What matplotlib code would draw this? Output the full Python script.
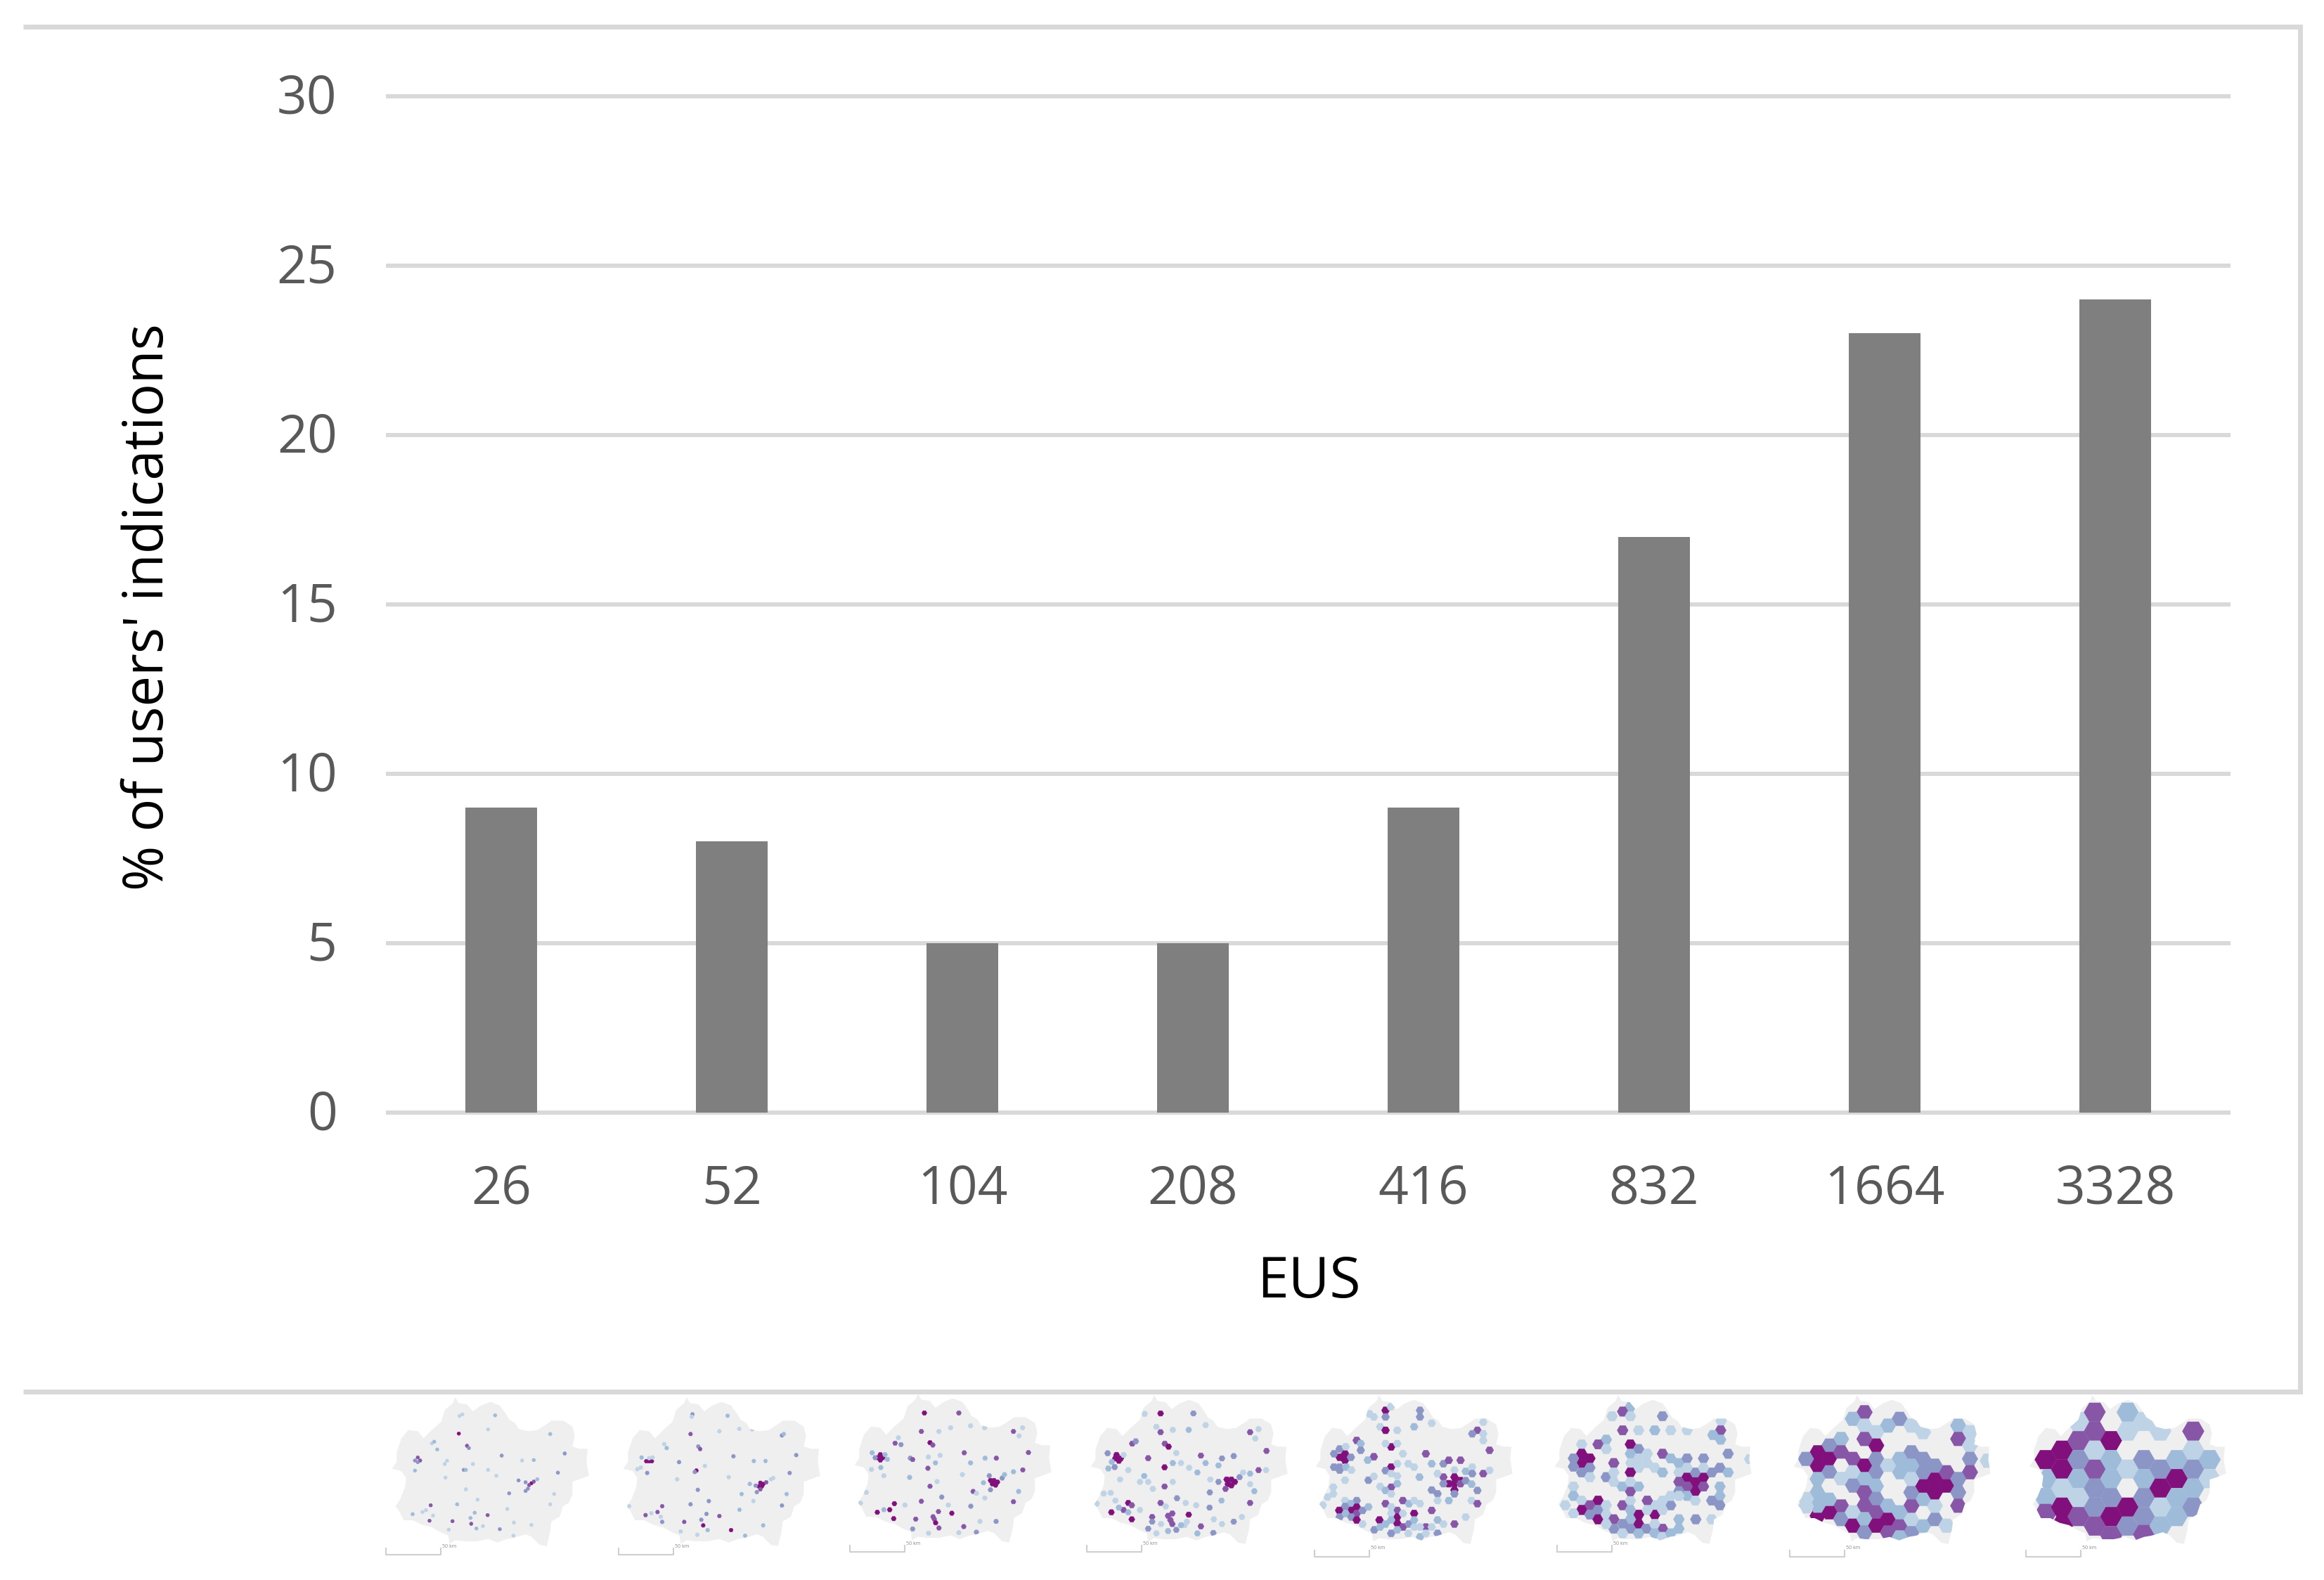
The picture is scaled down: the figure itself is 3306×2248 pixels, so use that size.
import matplotlib
matplotlib.use('Agg')
import matplotlib.pyplot as plt
from matplotlib.patches import Polygon
from matplotlib.transforms import ScaledTranslation

W, H = 3306, 2248

categories = ['26', '52', '104', '208', '416', '832', '1664', '3328']
values = [9, 8, 5, 5, 9, 17, 23, 24]
y_ticks = [0, 5, 10, 15, 20, 25, 30]

# BuPu classes, 0 is an empty cell inside the region
class_colors = ['#efefef', '#bfd3e6', '#9ebcda', '#8c96c6', '#8856a7', '#810f7c']

region = [(290, 15), (305, 40), (340, 45), (365, 75), (400, 50), (440, 35), (480, 50), (505, 85),
          (520, 110), (545, 125), (560, 150), (600, 160), (640, 155), (680, 130), (700, 115), (750, 115),
          (790, 140), (800, 180), (790, 225), (820, 235), (855, 235), (850, 290), (860, 350), (820, 365),
          (790, 375), (790, 430), (775, 465), (750, 480), (735, 525), (700, 545), (695, 590), (680, 650),
          (650, 645), (615, 610), (590, 600), (540, 615), (510, 620), (470, 635), (430, 620), (380, 630),
          (330, 630), (290, 625), (265, 640), (260, 605), (225, 590), (190, 570), (150, 560), (110, 540),
          (70, 540), (50, 500), (35, 480), (55, 450), (75, 400), (80, 360), (60, 330), (20, 320),
          (40, 290), (40, 250), (60, 190), (90, 155), (130, 160), (155, 190), (190, 155), (230, 120),
          (245, 70), (280, 40)]

cells_26 = [(320, 88, 1), (308, 95, 1), (460, 92, 2), (305, 170, 5), (430, 152, 1), (695, 172, 2), (190, 212, 1),
            (200, 205, 2), (213, 238, 2), (340, 222, 4), (348, 232, 3), (488, 264, 3), (757, 255, 3), (255, 286, 1),
            (118, 285, 3), (130, 272, 4), (140, 285, 4), (130, 292, 3), (118, 328, 2), (326, 325, 3), (335, 325, 2),
            (575, 285, 1), (625, 283, 2), (728, 337, 3), (615, 382, 5), (605, 390, 4), (590, 378, 3), (560, 370, 3),
            (600, 405, 3), (590, 415, 3), (625, 375, 4), (640, 365, 2), (520, 425, 3), (335, 408, 1), (248, 358, 1),
            (385, 452, 1), (298, 472, 2), (185, 476, 4), (165, 497, 1), (108, 514, 2), (180, 542, 4), (278, 544, 4),
            (355, 530, 2), (373, 508, 2), (358, 555, 4), (428, 518, 4), (380, 575, 2), (480, 578, 3), (512, 492, 1),
            (695, 472, 1), (615, 560, 1), (712, 428, 1), (540, 550, 1), (538, 606, 1), (262, 580, 1), (408, 565, 1),
            (150, 505, 1), (195, 520, 1), (365, 300, 1), (465, 350, 1), (430, 325, 1), (245, 300, 1)]

cells_52 = [(315, 88, 3), (312, 98, 1), (465, 94, 2), (307, 172, 4), (430, 160, 1), (697, 178, 3), (705, 172, 2),
            (205, 232, 2), (195, 215, 1), (340, 225, 3), (348, 236, 4), (490, 267, 3), (758, 262, 3), (258, 292, 3),
            (118, 288, 5), (130, 288, 5), (142, 288, 5), (130, 275, 1), (145, 272, 1), (98, 272, 2), (122, 338, 3),
            (80, 322, 1), (95, 315, 1), (332, 328, 5), (325, 334, 3), (577, 287, 2), (627, 287, 2), (730, 338, 3),
            (605, 380, 5), (618, 385, 5), (630, 378, 4), (598, 395, 5), (612, 395, 5), (605, 408, 4), (590, 420, 3),
            (560, 385, 2), (585, 392, 3), (650, 365, 1), (660, 360, 1), (338, 410, 3), (525, 428, 2), (575, 458, 1),
            (385, 458, 3), (307, 472, 3), (186, 480, 4), (166, 505, 4), (115, 518, 4), (186, 547, 3), (280, 547, 4),
            (353, 538, 3), (375, 513, 3), (361, 562, 5), (430, 522, 4), (480, 582, 5), (380, 582, 2), (516, 495, 2),
            (697, 477, 3), (617, 562, 2), (717, 428, 2), (540, 606, 2), (336, 602, 1), (265, 588, 1), (140, 510, 1),
            (180, 525, 1), (45, 480, 1), (470, 356, 1), (250, 365, 1), (368, 308, 1), (515, 150, 1), (570, 152, 1)]

cells_104 = [(318, 97, 5), (465, 97, 4), (305, 176, 4), (430, 160, 1), (380, 176, 1), (515, 152, 1), (575, 160, 1),
             (698, 176, 4), (737, 160, 1), (722, 195, 1), (193, 226, 4), (218, 232, 3), (207, 203, 1), (342, 224, 5),
             (354, 234, 4), (488, 267, 4), (762, 266, 4), (258, 290, 3), (268, 296, 4), (130, 275, 5), (120, 288, 5),
             (140, 288, 5), (130, 298, 5), (150, 275, 2), (95, 267, 2), (108, 288, 3), (160, 295, 2), (132, 330, 2),
             (92, 338, 1), (145, 365, 1), (333, 333, 4), (577, 290, 2), (625, 290, 4), (738, 340, 4), (698, 348, 2),
             (600, 385, 5), (615, 385, 5), (630, 392, 5), (608, 400, 5), (622, 405, 5), (595, 365, 3), (570, 395, 2),
             (650, 375, 3), (600, 425, 3), (660, 360, 2), (365, 310, 2), (515, 310, 2), (480, 360, 1), (255, 372, 2),
             (342, 410, 4), (372, 390, 1), (526, 432, 4), (540, 440, 1), (576, 460, 1), (392, 456, 3), (305, 474, 4),
             (190, 484, 5), (170, 510, 5), (117, 521, 5), (145, 510, 2), (187, 548, 5), (281, 550, 4), (360, 550, 4),
             (378, 518, 4), (355, 540, 4), (366, 566, 5), (435, 525, 5), (380, 588, 4), (486, 582, 4), (516, 495, 3),
             (698, 476, 4), (624, 560, 3), (720, 432, 2), (540, 606, 3), (268, 592, 3), (336, 610, 1), (465, 608, 1),
             (70, 436, 1), (45, 482, 1), (235, 490, 1), (420, 490, 1), (555, 560, 1), (335, 285, 1), (385, 278, 1)]

cells_208 = [(318, 93, 5), (250, 95, 1), (458, 93, 3), (300, 150, 1), (370, 163, 1), (438, 163, 2), (510, 143, 1),
             (318, 173, 4), (700, 173, 4), (736, 160, 1), (722, 200, 1), (197, 222, 4), (212, 212, 3), (336, 222, 4),
             (352, 235, 5), (385, 262, 1), (490, 273, 4), (770, 253, 4), (265, 284, 4), (130, 270, 5), (148, 285, 5),
             (125, 285, 5), (140, 295, 5), (92, 263, 3), (160, 270, 1), (110, 300, 2), (122, 322, 3), (95, 328, 2),
             (180, 335, 1), (145, 375, 1), (370, 305, 2), (405, 305, 1), (335, 323, 5), (440, 325, 1), (475, 345, 2),
             (510, 305, 2), (580, 285, 3), (630, 275, 3), (565, 315, 2), (736, 335, 4), (700, 350, 2), (768, 335, 1),
             (600, 375, 5), (620, 375, 5), (635, 385, 5), (605, 395, 5), (620, 400, 5), (595, 415, 4), (565, 385, 3),
             (655, 365, 3), (530, 375, 1), (670, 345, 1), (700, 395, 1), (718, 425, 2), (528, 430, 3), (578, 465, 2),
             (248, 360, 2), (230, 385, 1), (265, 385, 1), (285, 415, 1), (335, 405, 4), (370, 385, 1), (75, 435, 1),
             (105, 432, 1), (45, 478, 1), (125, 465, 1), (388, 455, 3), (318, 475, 4), (425, 475, 1), (180, 475, 5),
             (195, 485, 4), (160, 505, 4), (108, 515, 5), (140, 495, 2), (195, 545, 5), (180, 515, 2), (230, 505, 1),
             (282, 535, 4), (282, 555, 3), (350, 530, 4), (368, 520, 4), (360, 548, 4), (368, 565, 4), (385, 590, 3),
             (438, 525, 5), (490, 575, 4), (527, 495, 3), (700, 475, 4), (630, 555, 3), (580, 565, 1), (545, 545, 1),
             (665, 535, 1), (543, 603, 3), (265, 585, 3), (320, 565, 1), (350, 595, 2), (420, 570, 1), (475, 605, 2),
             (405, 570, 2), (430, 555, 1), (300, 605, 1), (470, 485, 1), (340, 490, 1)]

cells_416 = [(318, 80, 5), (318, 108, 3), (465, 80, 3), (465, 108, 3), (250, 95, 1), (268, 108, 1), (340, 65, 1),
             (295, 150, 1), (318, 165, 5), (368, 165, 1), (440, 150, 2), (515, 135, 1), (710, 165, 4), (688, 180, 3),
             (735, 130, 1), (735, 180, 1), (735, 208, 1), (195, 208, 4), (212, 222, 2), (212, 250, 3), (342, 236, 5),
             (318, 222, 1), (368, 222, 1), (392, 265, 1), (490, 265, 4), (762, 250, 4), (268, 278, 4), (242, 292, 2),
             (145, 265, 5), (122, 280, 5), (145, 293, 5), (170, 280, 3), (98, 265, 3), (122, 245, 3), (148, 235, 1),
             (98, 322, 3), (122, 322, 3), (122, 335, 3), (150, 322, 2), (172, 335, 1), (145, 378, 1), (342, 322, 5),
             (318, 337, 3), (342, 350, 1), (368, 308, 1), (415, 308, 1), (440, 322, 1), (515, 308, 2), (463, 365, 2),
             (565, 308, 3), (588, 293, 4), (638, 293, 4), (735, 350, 4), (762, 336, 1), (688, 322, 1), (612, 335, 1),
             (660, 340, 2), (688, 350, 3), (565, 365, 4), (612, 365, 5), (638, 380, 5), (588, 393, 5), (612, 393, 5),
             (612, 420, 5), (638, 393, 4), (565, 393, 3), (540, 350, 1), (660, 380, 3), (685, 395, 2), (710, 422, 3),
             (515, 420, 3), (540, 436, 3), (540, 465, 1), (588, 465, 2), (612, 436, 3), (685, 465, 1), (710, 478, 4),
             (245, 378, 3), (268, 362, 1), (295, 405, 1), (342, 408, 4), (368, 393, 2), (318, 422, 2), (342, 436, 1),
             (368, 360, 1), (95, 408, 1), (95, 436, 1), (70, 450, 1), (50, 485, 1), (145, 465, 1), (195, 465, 3),
             (170, 478, 2), (145, 490, 3), (120, 507, 5), (172, 507, 5), (195, 493, 5), (122, 535, 3), (148, 520, 2),
             (195, 520, 4), (172, 535, 3), (195, 548, 5), (220, 507, 3), (245, 492, 2), (220, 565, 1), (318, 478, 4),
             (392, 465, 4), (418, 478, 2), (440, 465, 1), (465, 478, 1), (515, 507, 4), (440, 520, 5), (368, 507, 4),
             (368, 535, 5), (368, 562, 5), (342, 492, 1), (342, 520, 1), (342, 548, 2), (392, 578, 4), (418, 565, 3),
             (292, 548, 5), (270, 590, 3), (295, 578, 2), (318, 565, 2), (342, 605, 3), (368, 590, 2), (415, 605, 1),
             (465, 620, 2), (490, 578, 4), (540, 605, 3), (540, 548, 2), (565, 565, 1), (612, 565, 4), (660, 535, 1),
             (440, 578, 1), (490, 605, 1), (465, 578, 1), (515, 578, 1), (392, 520, 1), (440, 548, 2)]

cells_832 = [(343, 65, 2), (310, 85, 4), (343, 105, 1), (265, 105, 1), (480, 105, 3), (730, 125, 1), (310, 165, 4),
             (378, 165, 1), (447, 165, 2), (515, 165, 1), (585, 165, 1), (728, 165, 4), (695, 185, 2), (728, 205, 2),
             (240, 205, 2), (205, 225, 4), (135, 225, 1), (240, 245, 1), (343, 225, 5), (378, 245, 3), (343, 265, 2),
             (415, 265, 1), (480, 265, 4), (378, 285, 1), (415, 305, 1), (345, 305, 1), (378, 325, 1), (447, 325, 1),
             (515, 285, 2), (550, 305, 2), (585, 285, 3), (655, 285, 3), (760, 265, 3), (852, 288, 1), (135, 265, 5),
             (170, 285, 5), (135, 305, 5), (100, 285, 3), (100, 320, 3), (135, 345, 3), (170, 325, 3), (170, 365, 1),
             (240, 365, 3), (272, 305, 4), (272, 345, 1), (343, 345, 5), (480, 345, 2), (550, 345, 1), (585, 365, 5),
             (655, 365, 5), (620, 385, 5), (620, 425, 5), (550, 385, 4), (585, 405, 4), (655, 405, 4), (620, 345, 3),
             (550, 425, 3), (585, 445, 2), (690, 345, 3), (725, 325, 3), (760, 345, 2), (655, 325, 1), (585, 325, 1),
             (725, 405, 2), (725, 445, 2), (620, 465, 1), (690, 465, 3), (725, 485, 3), (515, 485, 3), (550, 445, 1),
             (515, 445, 1), (480, 465, 1), (447, 485, 1), (415, 465, 4), (100, 405, 1), (100, 445, 2), (135, 465, 1),
             (65, 485, 1), (205, 465, 5), (170, 485, 4), (135, 505, 5), (205, 505, 3), (170, 525, 3), (205, 545, 5),
             (240, 485, 1), (240, 525, 1), (100, 520, 1), (310, 485, 4), (272, 545, 4), (378, 525, 5), (378, 565, 5),
             (447, 525, 5), (343, 465, 1), (343, 505, 2), (343, 545, 2), (310, 565, 3), (272, 585, 3), (343, 585, 3),
             (410, 585, 3), (480, 585, 4), (240, 565, 1), (378, 605, 2), (447, 565, 1), (310, 605, 1), (447, 605, 2),
             (480, 620, 1), (515, 605, 2), (550, 545, 2), (550, 585, 2), (622, 545, 3), (690, 545, 1), (415, 505, 1),
             (480, 505, 1), (343, 425, 4), (308, 405, 2), (378, 405, 2), (343, 385, 1), (272, 385, 1)]

cells_1664 = [(322, 88, 4), (272, 116, 2), (472, 116, 3), (422, 145, 2), (522, 145, 1), (572, 173, 1), (322, 145, 1),
              (372, 173, 1), (722, 145, 2), (772, 173, 1), (722, 202, 4), (772, 230, 1), (772, 287, 3), (772, 344, 4),
              (848, 295, 1), (222, 202, 2), (172, 230, 3), (122, 259, 5), (172, 287, 5), (122, 316, 5), (72, 287, 3),
              (222, 259, 4), (272, 287, 4), (322, 316, 5), (372, 230, 5), (322, 202, 4), (372, 287, 3), (372, 344, 3),
              (222, 316, 0), (172, 344, 3), (122, 373, 2), (222, 373, 1), (272, 344, 1), (322, 373, 2), (372, 401, 2),
              (272, 401, 3), (322, 430, 4), (372, 458, 3), (322, 487, 4), (372, 515, 4), (222, 487, 4), (172, 515, 5),
              (122, 530, 5), (222, 544, 3), (272, 515, 1), (272, 572, 5), (322, 544, 2), (322, 601, 3), (372, 572, 5),
              (422, 544, 5), (422, 601, 4), (472, 572, 4), (522, 601, 3), (572, 572, 2), (622, 544, 3), (672, 572, 1),
              (522, 544, 1), (572, 515, 0), (622, 487, 1), (572, 458, 2), (522, 487, 4), (522, 430, 3), (472, 515, 2),
              (422, 487, 2), (472, 622, 2), (572, 401, 5), (622, 373, 5), (622, 430, 5), (672, 401, 5), (672, 344, 4),
              (722, 373, 3), (722, 430, 3), (722, 487, 4), (522, 259, 3), (572, 287, 3), (622, 316, 3), (572, 344, 3),
              (522, 316, 2), (472, 287, 2), (472, 344, 2), (522, 373, 1), (422, 316, 1), (122, 430, 2), (172, 458, 2),
              (122, 487, 2), (72, 458, 1), (72, 490, 1), (172, 401, 0), (222, 430, 0), (422, 373, 0)]

cells_3328 = [(90, 290, 5), (105, 371, 2), (90, 452, 2), (90, 520, 4), (160, 250, 5), (160, 331, 5), (160, 412, 1),
              (160, 493, 5), (170, 555, 5), (230, 128, 1), (230, 209, 4), (230, 290, 3), (230, 371, 2), (230, 452, 1),
              (230, 533, 4), (300, 88, 4), (300, 169, 4), (300, 250, 1), (300, 331, 4), (300, 412, 3), (300, 493, 3),
              (300, 574, 4), (370, 128, 0), (370, 209, 5), (370, 290, 2), (370, 371, 2), (370, 452, 3), (370, 533, 5),
              (370, 614, 4), (440, 88, 2), (440, 169, 1), (440, 250, 0), (440, 331, 1), (440, 412, 0), (440, 493, 5),
              (440, 574, 3), (510, 128, 1), (510, 209, 0), (510, 290, 3), (510, 371, 2), (510, 452, 3), (510, 533, 3),
              (510, 610, 4), (580, 169, 1), (580, 250, 0), (580, 331, 3), (580, 412, 5), (580, 493, 1), (580, 574, 2),
              (650, 209, 0), (650, 290, 2), (650, 371, 5), (650, 452, 2), (650, 533, 2), (720, 169, 4), (720, 250, 1),
              (720, 331, 3), (720, 412, 2), (720, 493, 3), (790, 290, 2), (790, 371, 1)]

map_cells = [cells_26, cells_52, cells_104, cells_208, cells_416, cells_832, cells_1664, cells_3328]

# where each map sits on the page, px of top left corner, its hexagon radius, and its scale bar
map_origin = [(551, 1983), (880, 1983), (1209, 1978), (1545, 1980), (1865, 1980), (2205, 1980), (2545, 1980), (2880, 1980)]
map_hex_r = [2.7, 3.0, 3.6, 4.4, 5.7, 7.8, 11.2, 15.4]
scale_bar = [(549, 2212), (880, 2212), (1209, 2208), (1546, 2208), (1870, 2215), (2215, 2208), (2546, 2215), (2882, 2215)]

fig = plt.figure(figsize=(W / 100, H / 100), dpi=100)
plt.rcParams['font.family'] = ['Open Sans', 'DejaVu Sans']

# overlay in page pixels for the frame and the small maps
ov = fig.add_axes([0, 0, 1, 1])
ov.set_xlim(0, W)
ov.set_ylim(H, 0)
ov.axis('off')

frame_col = '#d9d9d9'
ov.plot([33, 3272], [38, 38], color=frame_col, lw=5, solid_capstyle='butt')
ov.plot([3272, 3272], [38, 1980], color=frame_col, lw=5, solid_capstyle='projecting')
ov.plot([33, 3272], [1980, 1980], color=frame_col, lw=5, solid_capstyle='butt')

for cells, (ox, oy), r, (bx, by) in zip(map_cells, map_origin, map_hex_r, scale_bar):
    outline = Polygon([(ox + x / 3, oy + y / 3) for x, y in region], closed=True,
                      facecolor=class_colors[0], edgecolor='none', zorder=2)
    ov.add_patch(outline)
    xs = [ox + c[0] / 3 for c in cells]
    ys = [oy + c[1] / 3 for c in cells]
    cols = [class_colors[c[2]] for c in cells]
    sc = ov.scatter(xs, ys, s=(2 * r * 0.72) ** 2, marker='H', c=cols, edgecolors='face', linewidths=0.4, zorder=3)
    sc.set_clip_path(outline)
    # scale bar
    ov.plot([bx, bx, bx + 78, bx + 78], [by - 9, by, by, by - 9], color='#cfcfcf', lw=1.5, zorder=2)
    ov.text(bx + 80, by - 12, '50 km', fontsize=5, color='#8a8a8a', ha='left', va='center')

ax = fig.add_axes([549 / W, 1 - 1583 / H, (3173 - 549) / W, (1583 - 137) / H])
ax.patch.set_alpha(0)
ax.bar(range(len(values)), values, width=0.314, color='#7f7f7f', zorder=3)
ax.set_xlim(-0.5, len(values) - 0.5)
ax.set_ylim(0, 30)
ax.set_yticks(y_ticks)
ax.set_xticks(range(len(values)))
ax.set_xticklabels(categories)
ax.grid(axis='y', color=frame_col, lw=4.3, zorder=0, solid_capstyle='butt')
for gl in ax.get_ygridlines():
    gl.set_clip_on(False)
ax.set_axisbelow(True)
for s in ax.spines.values():
    s.set_visible(False)
ax.tick_params(axis='both', length=0, labelsize=54, labelcolor='#595959')
ax.tick_params(axis='y', pad=50)
ax.tick_params(axis='x', pad=52)
# y labels sit a little higher than matplotlib centres them
for lab in ax.get_yticklabels():
    lab.set_transform(lab.get_transform() + ScaledTranslation(0, 4 / 100, fig.dpi_scale_trans))

fig.text(212 / W, 1 - 864 / H, "% of users' indications", rotation=90, fontsize=56, color='black', ha='center', va='center')
fig.text(1862 / W, 1 - 1825 / H, 'EUS', fontsize=58, color='black', ha='center', va='center')

fig.savefig('out.png', dpi=100, facecolor='white')
